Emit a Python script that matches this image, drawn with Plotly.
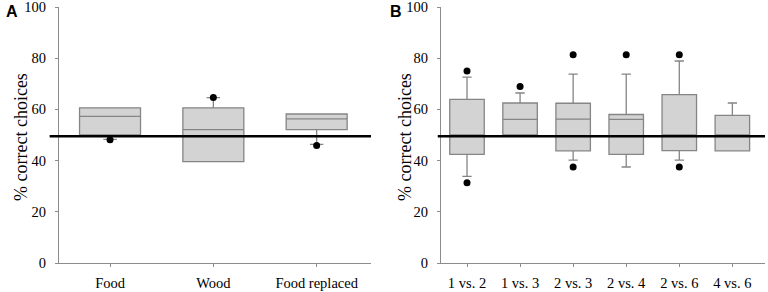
import plotly.graph_objects as go

# Panel A data
cats_a = ["Food", "Wood", "Food replaced"]
q1_a = [50.0, 39.6, 52.1]
med_a = [57.3, 52.1, 56.3]
q3_a = [60.6, 60.6, 58.2]
lo_a = [48.3, 39.6, 46.3]
hi_a = [60.6, 64.6, 58.2]
out_x_a = ["Food", "Wood", "Food replaced"]
out_y_a = [48.1, 64.6, 45.9]

# Panel B data
cats_b = ["1 vs. 2", "1 vs. 3", "2 vs. 3", "2 vs. 4", "2 vs. 6", "4 vs. 6"]
q1_b = [42.4, 50.0, 43.8, 42.4, 43.9, 43.8]
med_b = [50.0, 56.1, 56.2, 56.1, 50.0, 50.0]
q3_b = [63.9, 62.5, 62.4, 58.0, 65.8, 57.7]
lo_b = [33.8, 50.0, 40.2, 37.5, 40.2, 43.8]
hi_b = [72.6, 66.4, 73.8, 73.8, 78.9, 62.5]
out_x_b = ["1 vs. 2", "1 vs. 2", "1 vs. 3", "2 vs. 3", "2 vs. 3", "2 vs. 4", "2 vs. 6", "2 vs. 6"]
out_y_b = [75.0, 31.3, 68.9, 81.3, 37.5, 81.3, 81.3, 37.5]

chance = 49.5
yticks = [0, 20, 40, 60, 80, 100]

W, H = 768, 292
MT, MB = 7, 29

fig = go.Figure()

box_style = dict(fillcolor="#d3d3d3", line=dict(color="#858585", width=1.3),
                 boxpoints=False, hoverinfo="skip", showlegend=False)

fig.add_trace(go.Box(x=cats_a, q1=q1_a, median=med_a, q3=q3_a,
                     lowerfence=lo_a, upperfence=hi_a, width=0.59,
                     whiskerwidth=0.22, xaxis="x", yaxis="y", **box_style))
fig.add_trace(go.Box(x=cats_b, q1=q1_b, median=med_b, q3=q3_b,
                     lowerfence=lo_b, upperfence=hi_b, width=0.65,
                     whiskerwidth=0.27, xaxis="x2", yaxis="y2", **box_style))

dot = dict(mode="markers", marker=dict(color="black", size=7),
           showlegend=False, hoverinfo="skip")
fig.add_trace(go.Scatter(x=out_x_a, y=out_y_a, xaxis="x", yaxis="y", **dot))
fig.add_trace(go.Scatter(x=out_x_b, y=out_y_b, xaxis="x2", yaxis="y2", **dot))

tickfont = dict(family="Liberation Serif, Times New Roman, serif", size=14.5, color="black")
axis_common = dict(showline=True, linecolor="#8c8c8c", linewidth=1.2,
                   ticks="outside", ticklen=3, tickcolor="#8c8c8c",
                   showgrid=False, zeroline=False, tickfont=tickfont,
                   ticklabeloverflow="allow")

fig.update_layout(
    width=W, height=H,
    margin=dict(l=0, r=0, t=MT, b=MB),
    paper_bgcolor="white", plot_bgcolor="white",
    xaxis=dict(domain=[59 / W, 371 / W], range=[-0.494, 2.526], type="category",
               anchor="y", ticklabelstandoff=3, **axis_common),
    yaxis=dict(domain=[0, 1], range=[0, 100], tickvals=yticks, anchor="x",
               ticklabelstandoff=6, **axis_common),
    xaxis2=dict(domain=[441 / W, 765 / W], range=[-0.49, 5.615], type="category",
                anchor="y2", ticklabelstandoff=3, **axis_common),
    yaxis2=dict(domain=[0, 1], range=[0, 100], tickvals=yticks, anchor="x2",
                ticklabelstandoff=6, **axis_common),
)

# chance lines
fig.add_shape(type="line", xref="x domain", yref="y", x0=-0.03, x1=1.0,
              y0=chance, y1=chance, line=dict(color="black", width=2.5))
fig.add_shape(type="line", xref="x2 domain", yref="y2", x0=-0.01, x1=1.0,
              y0=chance, y1=chance, line=dict(color="black", width=2.5))

titlefont = dict(family="Liberation Serif, Times New Roman, serif", size=18, color="black")
for xp in (21 / W, 405 / W):
    fig.add_annotation(text="% correct choices", xref="paper", yref="paper",
                       x=xp, y=0.492, textangle=-90, showarrow=False,
                       xanchor="center", yanchor="middle", font=titlefont)

labfont = dict(family="Liberation Sans, Arial, sans-serif", size=16, color="black")
for xp, t in ((4 / W, "<b>A</b>"), (388 / W, "<b>B</b>")):
    fig.add_annotation(text=t, xref="paper", yref="paper", x=xp, y=(263 - 11) / 256,
                       showarrow=False, xanchor="left", yanchor="middle", font=labfont)

fig.write_html("out.html", config={"displayModeBar": False},
               post_script="document.body.style.margin='0';document.body.style.overflow='hidden';")
